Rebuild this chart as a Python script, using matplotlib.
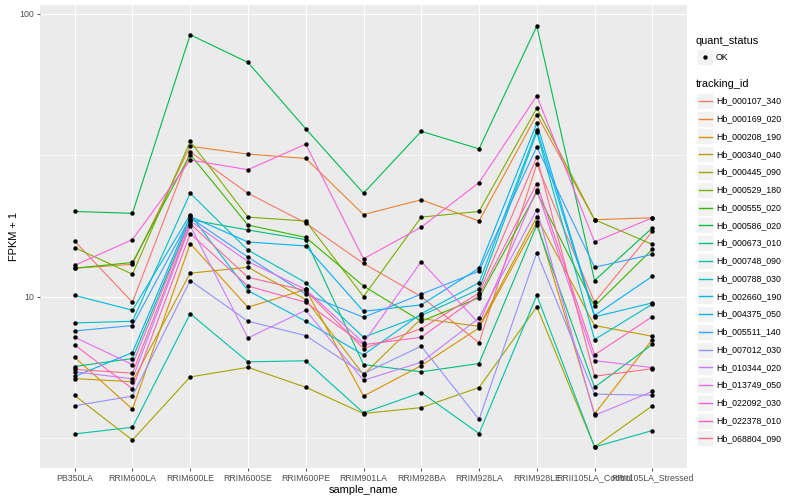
import matplotlib
matplotlib.use("Agg")
import matplotlib.pyplot as plt
from matplotlib.patches import Rectangle
from matplotlib.lines import Line2D
import numpy as np

plt.rcParams['font.family'] = ['Liberation Sans', 'DejaVu Sans']

# Data
samples = ["PB350LA", "RRIM600LA", "RRIM600LE", "RRIM600SE", "RRIM600PE", "RRIM901LA",
           "RRIM928BA", "RRIM928LA", "RRIM928LE", "RRII105LA_Control", "RRII105LA_Stressed"]

tracking_ids = ["Hb_000107_340", "Hb_000169_020", "Hb_000208_190", "Hb_000340_040",
                "Hb_000445_090", "Hb_000529_180", "Hb_000555_020", "Hb_000586_020",
                "Hb_000673_010", "Hb_000748_090", "Hb_000788_030", "Hb_002660_190",
                "Hb_004375_050", "Hb_005511_140", "Hb_007012_030", "Hb_010344_020",
                "Hb_013749_050", "Hb_022092_030", "Hb_022378_010", "Hb_068804_090"]

# ggplot hue palette, 20 levels
colors = ["#F8766D", "#EA8331", "#D89000", "#C09B00", "#A3A500", "#7CAE00", "#39B600",
          "#00BB4E", "#00BF7D", "#00C1A3", "#00BFC4", "#00BAE0", "#00B0F6", "#35A2FF",
          "#9590FF", "#C77CFF", "#E76BF3", "#FA62DB", "#FF62BC", "#FF6C91"]

# FPKM + 1, one list per gene, in sample order
hb_000107_340 = [15.7, 9.55, 32.5, 23.2, 18.2, 13.1, 10.0, 6.86, 29.4, 9.55, 17.0]
hb_000169_020 = [12.6, 13.0, 34.0, 31.9, 30.8, 19.5, 22.0, 18.5, 44.0, 18.7, 19.0]
hb_000208_190 = [6.1, 4.0, 15.4, 9.17, 10.6, 4.45, 5.7, 7.75, 18.3, 3.85, 7.05]
hb_000340_040 = [5.13, 5.0, 12.1, 12.7, 9.76, 5.30, 8.36, 7.85, 19.1, 7.9, 7.24]
hb_000445_090 = [4.47, 3.11, 5.2, 5.62, 4.78, 3.86, 4.05, 4.77, 9.2, 2.94, 4.11]
hb_000529_180 = [14.9, 12.0, 35.4, 19.1, 18.5, 10.0, 19.1, 20.0, 46.4, 18.7, 15.3]
hb_000555_020 = [12.6, 13.2, 31.8, 17.9, 16.2, 10.9, 8.18, 9.9, 23.4, 9.24, 14.7]
hb_000586_020 = [20.0, 19.7, 84.3, 67.3, 39.2, 23.2, 38.4, 33.3, 90.5, 11.4, 17.5]
hb_000673_010 = [5.66, 6.04, 18.7, 17.2, 15.9, 5.75, 5.42, 5.8, 17.9, 4.78, 6.78]
hb_000748_090 = [3.27, 3.45, 8.7, 5.88, 5.93, 3.88, 4.58, 3.28, 10.1, 2.94, 3.36]
hb_000788_030 = [8.07, 8.18, 23.2, 14.6, 11.2, 7.18, 8.57, 10.6, 38.1, 7.05, 9.4]
hb_002660_190 = [10.1, 8.95, 19.5, 10.5, 8.18, 6.22, 8.7, 11.2, 38.9, 8.48, 9.5]
hb_004375_050 = [5.22, 6.34, 19.2, 15.6, 15.1, 8.87, 9.35, 12.6, 41.0, 8.57, 11.8]
hb_005511_140 = [7.56, 7.9, 19.0, 13.8, 10.2, 8.45, 10.2, 12.3, 33.8, 12.7, 14.1]
hb_007012_030 = [4.11, 4.45, 11.4, 8.18, 7.28, 5.34, 6.68, 3.68, 14.3, 4.52, 4.48]
hb_010344_020 = [5.42, 5.12, 17.8, 7.14, 8.95, 5.06, 5.86, 8.4, 20.3, 3.80, 4.62]
hb_013749_050 = [7.18, 5.75, 18.5, 13.3, 10.6, 6.86, 13.3, 8.03, 23.9, 5.94, 5.61]
hb_022092_030 = [12.9, 15.9, 30.4, 28.1, 34.6, 13.6, 17.6, 25.3, 51.3, 15.6, 19.0]
hb_022378_010 = [6.75, 4.72, 16.7, 10.9, 9.55, 6.76, 7.18, 10.1, 25.1, 6.22, 8.5]
hb_068804_090 = [5.53, 5.36, 18.1, 11.7, 10.5, 6.55, 7.7, 10.3, 31.1, 5.23, 5.56]

values = [hb_000107_340, hb_000169_020, hb_000208_190, hb_000340_040, hb_000445_090,
          hb_000529_180, hb_000555_020, hb_000586_020, hb_000673_010, hb_000748_090,
          hb_000788_030, hb_002660_190, hb_004375_050, hb_005511_140, hb_007012_030,
          hb_010344_020, hb_013749_050, hb_022092_030, hb_022378_010, hb_068804_090]

W, H = 800, 500
fig = plt.figure(figsize=(8, 5), dpi=100)
ax = fig.add_axes([40 / W, 1 - 468 / H, 647 / W, 463 / H])
ax.set_facecolor('#EBEBEB')

x = np.arange(len(samples))
for vals, col in zip(values, colors):
    ax.plot(x, vals, color=col, lw=0.8, zorder=3)
for vals in values:
    ax.plot(x, vals, 'o', color='black', ms=3.2, mew=0, zorder=4)

# log scale with ggplot-like 5% expansion
ax.set_yscale('log')
allv = np.log10(np.concatenate([np.array(v) for v in values]))
lo, hi = allv.min(), allv.max()
pad = (hi - lo) * 0.05
ax.set_ylim(10 ** (lo - pad), 10 ** (hi + pad))
ax.set_xlim(-0.6, len(samples) - 0.4)

ax.set_yticks([10, 100])
ax.set_yticklabels(['10', '100'])
ax.set_yticks([10 ** 0.5, 10 ** 1.5], minor=True)
ax.set_xticks(x)
ax.set_xticklabels(samples)

ax.grid(True, which='major', color='white', lw=0.8, zorder=0)
ax.grid(True, which='minor', axis='y', color='white', lw=0.4, zorder=0)
ax.set_axisbelow(True)
for s in ax.spines.values():
    s.set_visible(False)
ax.tick_params(axis='both', which='major', colors='#333333', length=2, width=0.6,
               labelsize=6.3, labelcolor='#4D4D4D', pad=2)
ax.tick_params(axis='y', which='minor', length=0)

ax.set_xlabel('sample_name', fontsize=7.9, labelpad=2)
ax.set_ylabel('FPKM + 1', fontsize=7.9, labelpad=0.5)

# legends (drawn in figure pixel space, ggplot style)
def fx(px):
    return px / W

def fy(py):
    return 1 - py / H

key_w, key_h = 16, 16
lx = 697
fig.text(fx(lx - 1), fy(40.5), 'quant_status', fontsize=7.9, va='center', ha='left')
fig.add_artist(Rectangle((fx(lx), fy(57 + key_h / 2)), key_w / W, key_h / H,
                         transform=fig.transFigure, facecolor='#F2F2F2',
                         edgecolor='white', lw=0.5, zorder=1))
fig.add_artist(Line2D([fx(lx + key_w / 2)], [fy(57)], marker='o', color='black',
                      ms=3.2, mew=0, transform=fig.transFigure, zorder=5))
fig.text(fx(716), fy(57), 'OK', fontsize=6.3, va='center', ha='left')

fig.text(fx(lx - 1), fy(84), 'tracking_id', fontsize=7.9, va='center', ha='left')
y0, step = 101, 17.75
for i, (name, col) in enumerate(zip(tracking_ids, colors)):
    yc = y0 + i * step
    fig.add_artist(Rectangle((fx(lx), fy(yc + key_h / 2)), key_w / W, key_h / H,
                             transform=fig.transFigure, facecolor='#F2F2F2',
                             edgecolor='white', lw=0.5, zorder=1))
    fig.add_artist(Line2D([fx(lx + 1.5), fx(lx + key_w - 1.5)], [fy(yc), fy(yc)],
                          color=col, lw=1.0, transform=fig.transFigure, zorder=5))
    fig.text(fx(716), fy(yc), name, fontsize=6.3, va='center', ha='left')

fig.savefig('out.png', dpi=100)
